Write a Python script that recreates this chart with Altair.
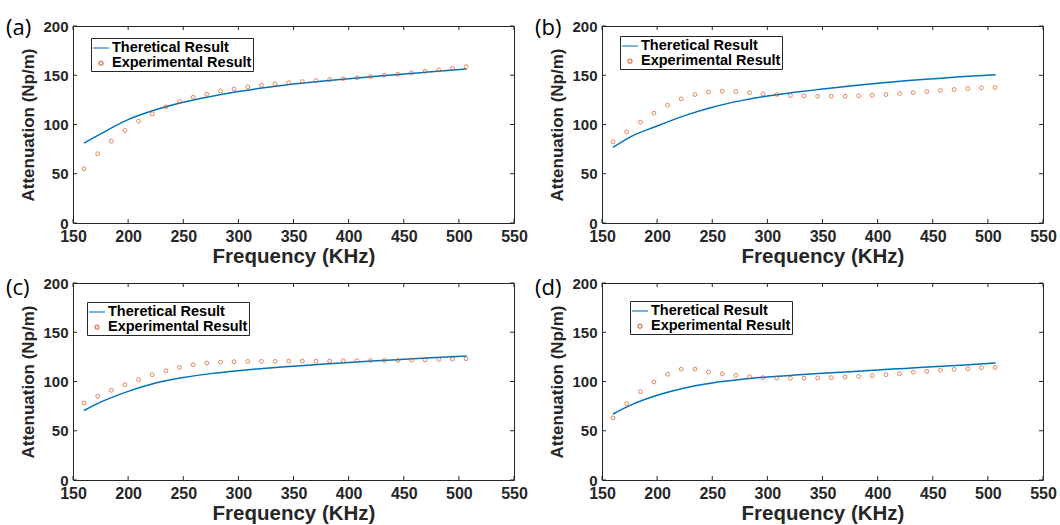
import altair as alt
import pandas as pd

# ---------------- data ----------------
freq_exp = [160.0, 172.4, 184.8, 197.1, 209.5, 221.9, 234.3, 246.6, 259.0, 271.4,
            283.8, 296.1, 308.5, 320.9, 333.3, 345.6, 358.0, 370.4, 382.8, 395.1,
            407.5, 419.9, 432.3, 444.6, 457.0, 469.4, 481.8, 494.1, 506.5]
exp_a = [55, 70.3, 83.1, 93.9, 103.4, 110.8, 117.9, 123.3, 127.7, 130.7,
         134.1, 136.1, 138.2, 139.9, 141.2, 142.6, 143.6, 144.6, 145.6, 146.6,
         147.6, 148.6, 150, 151, 152.4, 154, 155.4, 157.1, 158.8]
exp_b = [82.4, 92.6, 102.4, 111.5, 119.6, 126, 130.4, 133.1, 133.8, 133.4,
         132.4, 131.1, 130.4, 129.4, 129.1, 128.7, 128.7, 128.7, 129.1, 129.7,
         130.4, 131.4, 132.4, 133.4, 134.5, 135.5, 136.5, 137.2, 137.5]
exp_c = [78.2, 85, 91.1, 96.8, 101.9, 106.9, 111, 114.3, 117, 118.7,
         119.7, 120.1, 120.4, 120.4, 120.4, 120.7, 120.7, 120.7, 120.7, 121.1,
         121.1, 121.4, 121.4, 121.4, 121.8, 122.1, 122.4, 122.8, 123.1]
exp_d = [63.1, 77.6, 89.7, 99.5, 107.3, 112.6, 112.6, 109.6, 107.9, 106.2,
         104.9, 103.9, 103.6, 103.3, 103.3, 103.6, 103.9, 104.6, 105.2, 105.9,
         106.9, 107.9, 109.3, 110.3, 111.3, 112.3, 113, 114, 114.3]

freq_th = [160, 175, 200, 225, 250, 275, 300, 325, 350, 375, 400, 425, 450, 475, 507]
th_a = [81, 90.5, 105, 115, 122.5, 128.5, 133.5, 137.5, 141, 144, 146.5, 149, 151.2, 153.5, 156.3]
th_b = [76.7, 87, 98.5, 109, 117.5, 124, 129, 132.7, 136, 139.2, 142, 144.3, 146.4, 148.4, 150.5]
th_c = [70.5, 79, 90, 98.5, 104, 108, 111, 113.5, 115.5, 117.5, 119.3, 121, 122.5, 124, 125.8]
th_d = [67, 75.5, 86, 93.5, 98.5, 102, 104.5, 106.5, 108.3, 110, 111.8, 113.3, 115, 116.5, 118.7]

panel_labels = ["(a)", "(b)", "(c)", "(d)"]
series_names = ["Theretical Result", "Experimental Result"]
x_ticks = [150, 200, 250, 300, 350, 400, 450, 500, 550]
y_ticks = [0, 50, 100, 150, 200]

# ---------------- style ----------------
W, H = 441, 197
BLUE = "#0072BD"
ORANGE = "#D95319"
AXC = "#262626"
FONT = "Liberation Sans"

legend_pos = [(18, 12), (18, 10), (14, 19), (28, 18)]
label_dy = [2, 2, 5, 5]


def panel(label, th, ex, lpos, ldy):
    th_df = pd.DataFrame({"f": freq_th, "a": th, "s": series_names[0]})
    ex_df = pd.DataFrame({"f": freq_exp, "a": ex, "s": series_names[1]})
    xs = alt.Scale(domain=[150, 550], nice=False, zero=False)
    ys = alt.Scale(domain=[0, 200], nice=False)
    col = alt.Scale(domain=series_names, range=[BLUE, ORANGE])
    shp = alt.Scale(domain=series_names, range=["stroke", "circle"])
    siz = alt.Scale(domain=series_names, range=[256, 15])
    leg = alt.Legend(title=None, orient="none", legendX=lpos[0], legendY=lpos[1],
                     strokeColor=AXC, fillColor="white", padding=1,
                     labelFont=FONT, labelFontWeight="bold", labelFontSize=14.5,
                     labelColor="black", labelOffset=2, rowPadding=0,
                     symbolStrokeWidth=1.5)
    xax = alt.Axis(values=x_ticks, title="Frequency (KHz)", labelPadding=5,
                   titlePadding=2, labelFlush=False, labelFontSize=16,
                   titleFontSize=20.5)
    yax = alt.Axis(values=y_ticks, title="Attenuation (Np/m)", labelPadding=5,
                   titlePadding=5, labelFlush=False, labelFontSize=15,
                   titleFontSize=17)

    line = alt.Chart(th_df).mark_line(strokeWidth=1.5, interpolate="monotone").encode(
        x=alt.X("f:Q", scale=xs, axis=xax),
        y=alt.Y("a:Q", scale=ys, axis=yax),
        color=alt.Color("s:N", scale=col, legend=leg),
    )
    pts = alt.Chart(ex_df).mark_point(filled=False, strokeWidth=1).encode(
        x=alt.X("f:Q", scale=xs, axis=xax),
        y=alt.Y("a:Q", scale=ys, axis=yax),
        color=alt.Color("s:N", scale=col, legend=leg),
        shape=alt.Shape("s:N", scale=shp, legend=leg),
        size=alt.Size("s:N", scale=siz, legend=leg),
    )
    xt = pd.DataFrame({"t": x_ticks})
    yt = pd.DataFrame({"t": y_ticks})
    tick_bot = alt.Chart(xt).mark_rule(color=AXC, strokeWidth=1).encode(
        x=alt.X("t:Q", scale=xs, axis=xax), y=alt.value(H), y2=alt.value(H - 4))
    tick_top = alt.Chart(xt).mark_rule(color=AXC, strokeWidth=1).encode(
        x=alt.X("t:Q", scale=xs, axis=xax), y=alt.value(0), y2=alt.value(4))
    tick_left = alt.Chart(yt).mark_rule(color=AXC, strokeWidth=1).encode(
        y=alt.Y("t:Q", scale=ys, axis=yax), x=alt.value(0), x2=alt.value(4))
    tick_right = alt.Chart(yt).mark_rule(color=AXC, strokeWidth=1).encode(
        y=alt.Y("t:Q", scale=ys, axis=yax), x=alt.value(W), x2=alt.value(W - 4))
    lab = alt.Chart(pd.DataFrame({"l": [label]})).mark_text(
        font="Open Sans", fontSize=22, align="left", baseline="middle", color="black"
    ).encode(text="l:N", x=alt.value(-67), y=alt.value(ldy))

    return alt.layer(tick_bot, tick_top, tick_left, tick_right, line, pts, lab).properties(
        width=W, height=H)


panels = [panel(panel_labels[i], [th_a, th_b, th_c, th_d][i],
                [exp_a, exp_b, exp_c, exp_d][i], legend_pos[i], label_dy[i])
          for i in range(4)]


def indep(c):
    return c.resolve_scale(
        color="independent", shape="independent", size="independent"
    ).resolve_legend(
        color="independent", shape="independent", size="independent"
    )


row1 = indep(alt.hconcat(panels[0], panels[1], spacing=6))
row2 = indep(alt.hconcat(panels[2], panels[3], spacing=6))

chart = indep(alt.vconcat(row1, row2, spacing=8)).properties(
    padding={"left": 5, "top": 16, "right": 0, "bottom": 0},
    background="white",
).configure_view(
    stroke=AXC, strokeWidth=1
).configure_axis(
    grid=False, domain=False, ticks=False,
    labelFont=FONT, labelFontWeight="bold", labelColor=AXC,
    titleFont=FONT, titleFontWeight="bold", titleColor=AXC,
)

chart.save("out.html", embed_options={"renderer": "svg", "actions": False})
